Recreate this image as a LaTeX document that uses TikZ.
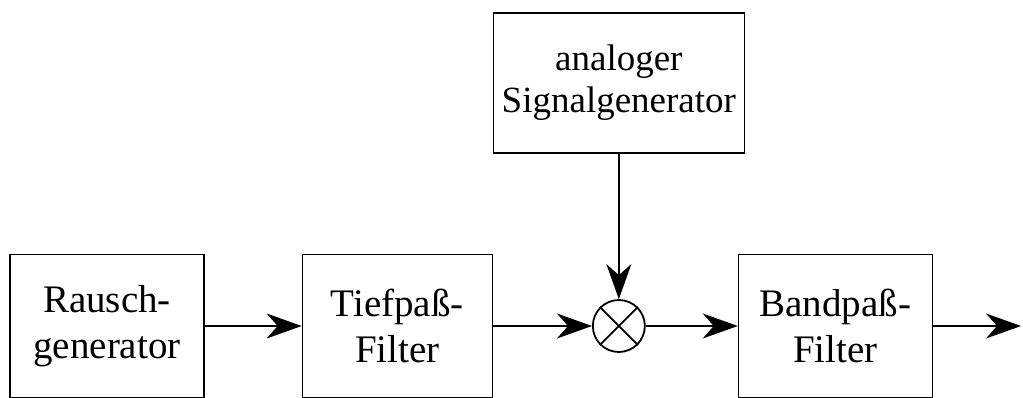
\documentclass[tikz,border=0pt]{standalone}
\usepackage{fontspec}
\setmainfont{Liberation Serif}
\usetikzlibrary{positioning,arrows.meta}

\begin{document}
\begin{tikzpicture}[->,>={Stealth[length=35pt,width=25pt,inset=11pt]},line width=1.5pt,
                    x=1pt,y=-1pt]
  \tikzstyle{block}=[draw,line width=1.3pt,minimum width=194pt,minimum height=143pt,
                     align=center,inner sep=0pt,font=\fontsize{39}{46}\selectfont]
  \tikzstyle{mixer}=[draw,circle,line width=1.8pt,minimum size=52pt,inner sep=0pt]

  \useasboundingbox (0,0) rectangle (1023,398);

  \node[block]                   (R) at (107,326)   {Rausch-\\generator};
  \node[block,minimum width=190pt] (T) [right=97pt of R] {Tiefpaß-\\Filter};
  \node[mixer]                   (M) [right=99pt of T] {};
  \node[block]                   (B) [right=92pt of M] {Bandpaß-\\Filter};
  \node[block,minimum width=251pt,minimum height=140pt,font=\fontsize{37}{42}\selectfont]
                                 (S) at (M |- 0,83) {analoger\\Signalgenerator};
  \coordinate (out) at (1021,326);

  \draw[-,line width=1.8pt] (M.north west) -- (M.south east);
  \draw[-,line width=1.8pt] (M.north east) -- (M.south west);

  \path (R) edge (T)
        (T) edge (M)
        (S) edge (M)
        (M) edge (B)
        (B) edge (out);
\end{tikzpicture}
\end{document}
